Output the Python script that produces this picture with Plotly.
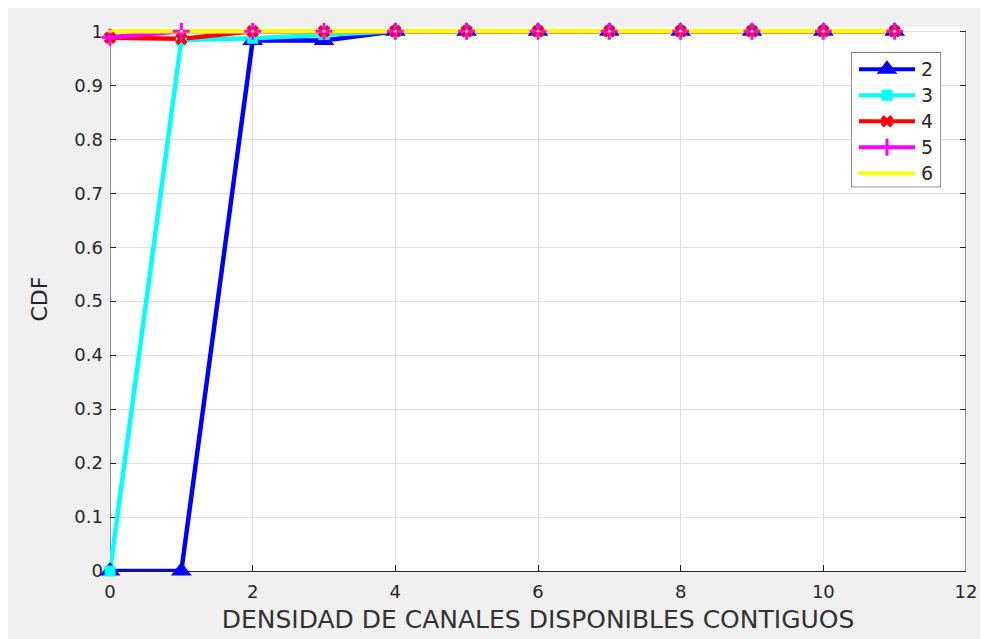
import plotly.graph_objects as go

x_vals = list(range(12))
names = ["2", "3", "4", "5", "6"]
s2 = [0, 0, 0.983, 0.983, 1, 1, 1, 1, 1, 1, 1, 1]
s3 = [0, 0.984, 0.987, 0.994, 1, 1, 1, 1, 1, 1, 1, 1]
s4 = [0.988, 0.986, 1, 1, 1, 1, 1, 1, 1, 1, 1, 1]
s5 = [0.989, 1, 1, 1, 1, 1, 1, 1, 1, 1, 1, 1]
s6 = [1, 1, 1, 1, 1, 1, 1, 1, 1, 1, 1, 1]
series = [s2, s3, s4, s5, s6]
colors = ["#0000ff", "#00ffff", "#ff0000", "#ff00ff", "#ffff00"]
symbols = ["triangle-up", "square", "x", "cross-thin", "circle"]
sizes = [18, 11, 11, 12, 3]
x_ticks = [0, 2, 4, 6, 8, 10, 12]
y_ticks = [0, 0.1, 0.2, 0.3, 0.4, 0.5, 0.6, 0.7, 0.8, 0.9, 1]
y_ticktext = ["0", "0.1", "0.2", "0.3", "0.4", "0.5", "0.6", "0.7", "0.8", "0.9", "1"]

FONT = "DejaVu Sans"
TXT = "#262626"
YTOP = 1.008  # small headroom so the thick lines at y=1 are not clipped

fig = go.Figure()

# lines first
for s, c in zip(series, colors):
    fig.add_trace(go.Scatter(x=x_vals, y=s, mode="lines", line=dict(color=c, width=4.5),
                             showlegend=False, cliponaxis=False, hoverinfo="skip"))

def marker_dict(i):
    c = colors[i]
    return dict(symbol=symbols[i], size=sizes[i], color=c,
                line=dict(color=c, width=3 if symbols[i] == "cross-thin" else 0))

# markers on top
for i, s in enumerate(series):
    fig.add_trace(go.Scatter(x=x_vals, y=s, mode="markers", marker=marker_dict(i),
                             showlegend=False, cliponaxis=False))

# page has an 8px body margin; coordinates below are relative to the figure
OFF = 8
unit = 540.0  # pixels per unit of y
L, R, B = 110 - OFF, 966 - OFF, 571 - OFF
T = B - unit * YTOP
W, H = 988 - OFF, 639 - OFF
pw, ph = R - L, B - T

def px_x(p):
    return (p - OFF - L) / pw

def px_y(p):
    return (B - (p - OFF)) / ph

# box sides (left / right) from y=0 to y=1
for xv in (0, 12):
    fig.add_shape(type="line", xref="x", yref="y", layer="below", x0=xv, x1=xv, y0=0, y1=1,
                  line=dict(color=TXT, width=1))

# manual legend drawn in its own small overlay axes (screen-pixel units)
LX0, LX1, LY0, LY1 = 851, 941, 52, 187
leg_rows = [69, 95, 121, 147, 173]
for i, n in enumerate(names):
    yy = leg_rows[i]
    fig.add_trace(go.Scatter(x=[859, 915], y=[yy, yy], mode="lines", xaxis="x2", yaxis="y2",
                             line=dict(color=colors[i], width=4), showlegend=False,
                             hoverinfo="skip"))
    fig.add_trace(go.Scatter(x=[887], y=[yy], mode="markers", xaxis="x2", yaxis="y2",
                             marker=marker_dict(i), showlegend=False, hoverinfo="skip"))
    fig.add_annotation(x=919, y=yy, xref="x2", yref="y2", text=n, showarrow=False,
                       xanchor="left", yanchor="middle",
                       font=dict(family=FONT, size=19, color=TXT))

fig.add_shape(type="rect", xref="x2", yref="y2", layer="below",
              x0=LX0, x1=LX1, y0=LY0, y1=LY1, fillcolor="white",
              line=dict(color=TXT, width=1))

axis_common = dict(ticks="inside", ticklen=6, tickcolor=TXT, layer="below traces",
                   showgrid=True, gridcolor="#dedede", gridwidth=1, zeroline=False,
                   tickfont=dict(family=FONT, size=18, color=TXT))

fig.update_layout(
    width=W, height=H,
    margin=dict(l=L, r=W - R, t=T, b=H - B),
    paper_bgcolor="#f0f0f0", plot_bgcolor="white",
    font=dict(family=FONT, color=TXT),
    xaxis=dict(range=[0, 12], tickvals=x_ticks, ticklabelstandoff=4, domain=[0, 1],
               showline=True, linecolor=TXT, linewidth=1, mirror=False, **axis_common,
               title=dict(text="DENSIDAD DE CANALES DISPONIBLES CONTIGUOS",
                          font=dict(size=25, color="#333333"), standoff=9)),
    yaxis=dict(range=[0, YTOP], tickvals=y_ticks, ticktext=y_ticktext, ticklabelstandoff=6,
               domain=[0, 1], showline=False, **axis_common,
               title=dict(text="CDF", font=dict(size=22, color=TXT), standoff=20)),
    yaxis3=dict(range=[0, YTOP], tickvals=y_ticks, overlaying="y", side="right",
                anchor="x", showticklabels=False, showgrid=False, showline=False,
                ticks="inside", ticklen=6, tickcolor=TXT, zeroline=False, fixedrange=True),
    xaxis2=dict(domain=[px_x(LX0), px_x(LX1)], range=[LX0, LX1], anchor="y2",
                visible=False, fixedrange=True),
    yaxis2=dict(domain=[px_y(LY1), px_y(LY0)], range=[LY1, LY0], anchor="x2",
                visible=False, fixedrange=True),
    showlegend=False,
)

# dummy trace so the right-side tick axis is drawn
fig.add_trace(go.Scatter(x=[None], y=[None], yaxis="y3", showlegend=False, hoverinfo="skip"))

fig.write_html("out.html")
